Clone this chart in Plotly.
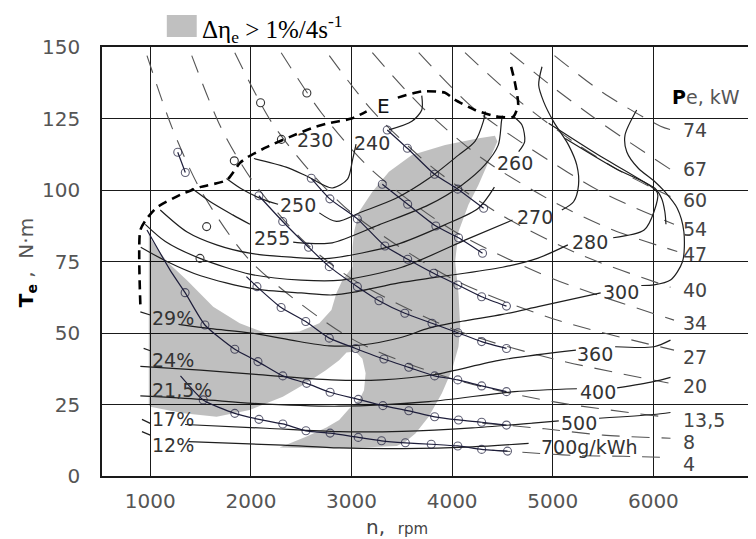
import plotly.graph_objects as go

# ---------------- axes ----------------
X_TICKS = [1000, 2000, 3000, 4000, 5000, 6000]
Y_TICKS = [0, 25, 50, 75, 100, 125, 150]

# ---------------- shaded region (delta eta_e > 1%/4s^-1) ----------------
SHADE_RPM = [985, 1000, 1165, 1362, 1625, 1889, 2153, 2482, 2680, 2800, 2850, 2910, 3010, 3010, 3025,
             3075, 3207, 3372, 3600, 3930, 4250, 4425, 4450, 4360, 4260, 4162, 4063, 4030, 4063, 4080,
             4063, 3997, 3898, 3767, 3635, 3536, 3450, 3000, 2600, 2285, 2400, 2548, 2750, 2877, 2976,
             3075, 3124, 3140, 3108, 3040, 2950, 2877, 2745, 2548, 2317, 1988, 1659, 1329, 1000, 985]
SHADE_T = [86, 83, 75, 68.5, 59.2, 53.4, 49.9, 50.5, 53.4, 58, 64, 68.5, 73.2, 80, 85.4,
           92.4, 99.4, 106.4, 112.2, 115.7, 118, 119, 117, 110, 101.7, 94.8, 85.4, 75, 63.9, 52.2,
           45.2, 37, 28.9, 20.7, 14.9, 12, 10.5, 9.8, 9.7, 10, 11.5, 13.7, 17, 19.6, 23.5,
           26.6, 30, 35.9, 41, 43.5, 43.2, 40.5, 37, 32.4, 27.7, 23.1, 20.7, 21.9, 24.2, 25]

# ---------------- E boundary (max torque) ----------------
E_RPM = [901, 901, 970, 1069, 1296, 1494, 1761, 1889, 1968, 2156, 2383, 2610, 2778, 3000, 3150, None,
         3460, 3700, 3930, 4030, 4227, 4458, 4606, 4656, 4622, 4572]
E_T = [60, 86, 90.2, 94, 98.3, 101, 103.5, 109.4, 111.5, 115, 118.5, 121.7, 123.4, 125, 127.5, None,
       132.3, 134.5, 134, 131.5, 128, 125.6, 125.6, 129.7, 137.9, 145]

# ---------------- BSFC contours, g/kWh ----------------
C240_RPM = [2030, 2350, 2548, 2808, 2960, 3010, 3045, None, 3372, 3600, 3698, 3698]
C240_T = [111, 108, 105, 100.7, 103.8, 110.5, 116, None, 121, 124, 128, 133]
C250_RPM = [1757, 1900, 2100, 2270, None, 2680, 2850, 3105, 3437, 3767, 4063, 4227, 4310, 4330]
C250_T = [104, 100.5, 97, 95, None, 92, 89, 92.4, 97, 104, 112.2, 117, 124, 127.5]
C255_RPM = [1412, 1593, 1820, 1990, None, 2420, 2548, 2808, 3273, 3767, 4095, 4323, 4458, 4490, 4500]
C255_T = [100.6, 96, 91.3, 88, None, 81.8, 81.4, 81.5, 87.8, 94.8, 101.7, 108.7, 115.7, 124, 126]
C260_RPM = [1099, 1362, 1659, 1988, 2400, 2779, 3437, 3927, 4260, 4420, None, 4661, 4721, 4694, 4612]
C260_T = [93, 85.4, 80.8, 77.9, 76.5, 76.1, 80.8, 87.8, 93.6, 101, None, 113.4, 116.9, 122.7, 125.6]
C270_RPM = [950, 1150, 1500, 2000, 2500, 2900, 3500, 4162, 4600, None, 5090, 5207, 5256, 5239, 5157,
            5008, 4909, 4860, 4893]
C270_T = [88, 82, 76, 70.5, 68.5, 68.5, 73, 83, 89.5, None, 93, 95.9, 101.7, 108.7, 115.7,
          123.9, 130.9, 136.7, 143.1]
C280_RPM = [905, 1165, 1500, 2018, 2500, 2808, 3045, 3470, 3866, 4500, 4854, 5150, None, 5600, 5908,
            6006, 6040, 5850, 5454, 4959]
C280_T = [80, 75, 70, 65.5, 64, 63.3, 64.4, 67.5, 69.6, 73, 76.2, 80.8, None, 83.3, 86,
          92.4, 99, 104, 112.2, 123.3]
C290_RPM = [5124, 5619, 6015, 6081, 6114, 6125]
C290_T = [118, 107.6, 100.6, 97.1, 92.4, 88]
C300_RPM = [1280, 1600, 2000, 2400, 2779, 3100, 3500, 3767, 4095, 4500, 4854, 5476, None, 5880, 6006,
            6170, 6290, 6303, 6237, 6114, 6015, 5850, 5735, 5718, 5834]
C300_T = [53, 51.5, 50, 47.5, 45.5, 45.8, 48.5, 51.7, 54.1, 56.5, 59.2, 64, None, 66.6, 66.8,
          68.5, 75, 85.4, 93.6, 99.4, 102.9, 107.6, 113.4, 119.2, 128]
C360_RPM = [901, 1500, 2050, 2800, 3300, 3830, 4490, 5230, None, 5620, 6006, 6170]
C360_T = [38.3, 37, 35.5, 33.6, 33.6, 35.5, 40.6, 44, None, 45.2, 45.2, 47.5]
C400_RPM = [901, 1500, 2020, 2877, 3767, 4622, 5240, None, 5640, 6000, 6170]
C400_T = [28, 26.8, 25.4, 24.4, 26, 29.5, 30.5, None, 30.8, 33, 34.5]
C500_RPM = [1346, 2150, 2877, 3500, 4200, 4800, 5060, None, 5460, 6000, 6170]
C500_T = [18, 16.7, 15.5, 15.6, 16.8, 18.5, 19.3, None, 20.2, 21.5, 22.2]
C700_RPM = [1378, 2317, 2877, 3500, 4200, 4760]
C700_T = [12, 10.8, 9.8, 9.6, 10.2, 11.4]

# leader ticks of the efficiency labels
LEAD_RPM = [901, 1000, None, 934, 1000, None, 917, 1000, None, 917, 1000]
LEAD_T = [57.4, 56.3, None, 44.6, 43.8, None, 19.8, 18.4, None, 15.5, 14.3]

# ---------------- constant power lines, kW ----------------
P74_RPM = [5017, 5500, 6071, 6200]
P74_T = [147, 134, 122.3, 120.8]
P67_RPM = [4577, 5000, 5500, 6200]
P67_T = [148, 136, 123, 106.5]
P60_RPM = [4128, 4600, 5200, 5700, 6170]
P60_T = [148, 133, 117, 106, 97.7]
P54_RPM = [3668, 4200, 4800, 5500, 6205]
P54_T = [148, 129, 114, 99, 88]
P47_RPM = [3207, 3700, 4300, 5000, 5600, 6237]
P47_T = [148, 129, 111, 96, 86, 78.5]
P40_RPM = [2779, 3200, 3800, 4500, 5300, 6170]
P40_T = [147, 128, 108, 91, 77, 66]
P34_RPM = [2301, 2700, 3200, 4000, 5000, 6205]
P34_T = [148, 127, 107, 86, 69, 54.5]
P27_RPM = [1840, 2200, 2600, 3000, 4000, 5000, 6205]
P27_T = [148, 124, 106, 92, 69, 55, 44]
P20_RPM = [1412, 1700, 2000, 2500, 3000, 4000, 5000, 6150]
P20_T = [147, 122, 104, 83, 69, 51.5, 41, 32.5]
P13_RPM = [967, 1214, 1500, 2000, 3000, 4000, 5000, 6150]
P13_T = [147, 122, 100, 75, 48, 34, 26, 20.5]
P8_RPM = [4300, 4920, 5500, 6170]
P8_T = [18.5, 16.5, 14.3, 13.2]
P4_RPM = [4400, 4700, 5200, 5700, 6140]
P4_T = [9, 8.3, 7.2, 6.9, 6.5]

# ---------------- measured trajectories (circles) ----------------
TC_RPM = [3355, 3555, 3825, 4056, 4313]
TC_T = [121, 114.6, 105.5, 100.3, 93.6]
TD_RPM = [3306, 3558, 3838, 4063, 4302]
TD_T = [102, 95, 87.4, 83.3, 77.9]
TE_RPM = [2600, 2785, 3058, 3332, 3558, 3816, 4056, 4293, 4540]
TE_T = [104.1, 96.9, 89.9, 80.4, 75.8, 70.9, 66.8, 62.7, 59.4]
TF_RPM = [2079, 2316, 2573, 2779, 3058, 3273, 3530, 3800, 4056, 4293, 4540]
TF_T = [98, 89, 80, 73.2, 66.2, 61.3, 56.9, 53.4, 50.1, 47, 44.6]
TG_RPM = [1955, 2060, 2300, 2545, 2779, 3041, 3322, 3569, 3826, 4056, 4293, 4540]
TG_T = [69.7, 66.2, 58.9, 54, 48.2, 44.6, 40.9, 38, 35, 33.6, 31.5, 29.5]
TH_RPM = [967, 1197, 1346, 1543, 1840, 2070, 2317, 2554, 2787, 3067, 3312, 3569, 3826, 4063, 4293, 4540]
TH_T = [86, 72, 64.1, 52.8, 44.3, 40, 35, 32.4, 29.3, 26.8, 24.6, 22.8, 20.7, 19.6, 18.8, 17.8]
TI_RPM = [1300, 1526, 1840, 2080, 2317, 2547, 2787, 3067, 3298, 3535, 3792, 4056, 4293, 4550]
TI_T = [35, 26.6, 21.9, 19.8, 18.2, 15.8, 15, 13.5, 12.3, 11.6, 11.1, 10.5, 9.3, 8.7]
TA_RPM = [1273, 1348]
TA_T = [113.2, 106.1]
PT_RPM = [2096, 2556, 1835, 2303, 1560, 1494]
PT_T = [130.5, 133.9, 110.2, 117.7, 87.2, 76.1]

# ---------------- labels ----------------
BSFC_TEXT = ["230", "240", "250", "255", "260", "270", "280", "300", "360", "400", "500", "700g/kWh"]
BSFC_RPM = [2640, 3203, 2472, 2205, 4626, 4824, 5367, 5683, 5417, 5446, 5258, 5365]
BSFC_T = [117.5, 116.4, 94.6, 83.2, 109.4, 90.6, 81.8, 64.2, 42.8, 29.5, 18.7, 10.3]
ETA_TEXT = ["29%", "24%", "21,5%", "17%", "12%"]
ETA_T = [55.4, 40.6, 30.2, 19.8, 10.8]
ETA_RPM = 1000
P_TEXT = ["74", "67", "60", "54", "47", "40", "34", "27", "20", "13,5", "8", "4"]
P_T = [121, 107.3, 96.5, 86.4, 77.6, 65, 53.5, 41.6, 31.5, 19.6, 11.9, 4.2]
P_RPM = 6277

FONT = "DejaVu Sans"
LINE_C = "#1e1e1e"
TRAJ_C = "#1d1d3a"
DASH_C = "#555555"

fig = go.Figure()

# shaded area (translucent so that the grid shows through)
fig.add_trace(go.Scatter(x=SHADE_RPM, y=SHADE_T, mode="lines", fill="toself",
                         fillcolor="rgba(0,0,0,0.25)", line=dict(width=0), hoverinfo="skip"))

# power lines
for xs, ys in [(P74_RPM, P74_T), (P67_RPM, P67_T), (P60_RPM, P60_T), (P54_RPM, P54_T),
               (P47_RPM, P47_T), (P40_RPM, P40_T), (P34_RPM, P34_T), (P27_RPM, P27_T),
               (P20_RPM, P20_T), (P13_RPM, P13_T), (P8_RPM, P8_T), (P4_RPM, P4_T)]:
    fig.add_trace(go.Scatter(x=xs, y=ys, mode="lines", line=dict(color=DASH_C, width=1.1, dash="18px,12px",
                                                                 shape="spline", smoothing=0.8)))

# BSFC contours
for xs, ys in [(C240_RPM, C240_T), (C250_RPM, C250_T), (C255_RPM, C255_T), (C260_RPM, C260_T),
               (C270_RPM, C270_T), (C280_RPM, C280_T), (C290_RPM, C290_T), (C300_RPM, C300_T),
               (C360_RPM, C360_T), (C400_RPM, C400_T), (C500_RPM, C500_T), (C700_RPM, C700_T),
               (LEAD_RPM, LEAD_T)]:
    fig.add_trace(go.Scatter(x=xs, y=ys, mode="lines", connectgaps=False,
                             line=dict(color=LINE_C, width=1.2, shape="spline", smoothing=0.8)))

# trajectories with circles
for xs, ys, skip in [(TC_RPM, TC_T, 0), (TD_RPM, TD_T, 0), (TE_RPM, TE_T, 0), (TF_RPM, TF_T, 0),
                     (TG_RPM, TG_T, 1), (TH_RPM, TH_T, 2), (TI_RPM, TI_T, 1), (TA_RPM, TA_T, 0)]:
    sizes = [0] * skip + [8] * (len(xs) - skip)
    fig.add_trace(go.Scatter(x=xs, y=ys, mode="lines+markers",
                             line=dict(color=TRAJ_C, width=1.2, shape="spline", smoothing=0.6),
                             marker=dict(symbol="circle-open", size=sizes, color=TRAJ_C,
                                         line=dict(width=1.1, color=TRAJ_C))))
fig.add_trace(go.Scatter(x=PT_RPM, y=PT_T, mode="markers",
                         marker=dict(symbol="circle-open", size=8, color="#333",
                                     line=dict(width=1.1, color="#333"))))

# E boundary
fig.add_trace(go.Scatter(x=E_RPM, y=E_T, mode="lines", connectgaps=False,
                         line=dict(color="#000", width=2.6, dash="9px,6px", shape="spline", smoothing=0.6)))

ann = []
for t, x, y in zip(BSFC_TEXT, BSFC_RPM, BSFC_T):
    ann.append(dict(x=x, y=y, xref="x", yref="y", text=t, showarrow=False,
                    font=dict(family=FONT, size=19, color="#333")))
for t, y in zip(ETA_TEXT, ETA_T):
    ann.append(dict(x=ETA_RPM, y=y, xref="x", yref="y", text=t, showarrow=False, xanchor="left",
                    font=dict(family=FONT, size=19, color="#333")))
for t, y in zip(P_TEXT, P_T):
    ann.append(dict(x=P_RPM, y=y, xref="x", yref="y", text=t, showarrow=False, xanchor="left",
                    font=dict(family=FONT, size=19, color="#444")))
ann.append(dict(x=3320, y=129.5, xref="x", yref="y", text="E", showarrow=False,
                font=dict(family=FONT, size=20, color="#111")))
ann.append(dict(x=6168, y=132.5, xref="x", yref="y", xanchor="left", showarrow=False,
                text="<b>P</b><span style='color:#555'>e, kW</span>",
                font=dict(family=FONT, size=19, color="#000")))
# axis titles
ann.append(dict(x=0.4526, y=-0.119, xref="paper", yref="paper", showarrow=False,
                xanchor="center", yanchor="middle",
                text="n,  <span style='font-size:15px'>rpm</span>",
                font=dict(family=FONT, size=20, color="#444")))
ann.append(dict(x=-0.1147, y=0.4965, xref="paper", yref="paper", showarrow=False, textangle=-90,
                xanchor="center", yanchor="middle",
                text="<b>T</b><sub><b>e</b></sub><span style='color:#555'> ,  N·m</span>",
                font=dict(family=FONT, size=20, color="#000")))
# legend
ann.append(dict(x=0.1498, y=1.043, xref="paper", yref="paper", xanchor="left", yanchor="middle",
                showarrow=False, text="Δη<sub>e</sub> > 1%/4s<sup>-1</sup>",
                font=dict(family="Liberation Serif", size=25, color="#000")))

# the page has an 8px body margin, so the figure is 8px smaller and margins shifted
fig.update_layout(
    width=748, height=531,
    margin=dict(l=94, r=0, t=39, b=63),
    paper_bgcolor="white", plot_bgcolor="white",
    showlegend=False,
    annotations=ann,
    shapes=[dict(type="rect", xref="paper", yref="paper", x0=0.0994, x1=0.1453, y0=1.0233, y1=1.0746,
                 fillcolor="#c0c0c0", line=dict(width=0))],
    xaxis=dict(range=[520, 7000], tickvals=X_TICKS, ticktext=[str(v) for v in X_TICKS],
               showgrid=True, gridcolor="#1a1a1a", gridwidth=1.3, zeroline=False,
               showline=True, linecolor="#1a1a1a", linewidth=1.5, mirror=True, ticks="",
               ticklabelstandoff=6, tickfont=dict(family=FONT, size=20, color="#555")),
    yaxis=dict(range=[0, 150], tickvals=Y_TICKS, ticktext=[str(v) for v in Y_TICKS],
               showgrid=True, gridcolor="#1a1a1a", gridwidth=1.3, zeroline=False,
               showline=True, linecolor="#1a1a1a", linewidth=1.5, mirror=True, ticks="",
               ticklabelstandoff=16, tickfont=dict(family=FONT, size=20, color="#555")),
)

fig.write_html("out.html")
